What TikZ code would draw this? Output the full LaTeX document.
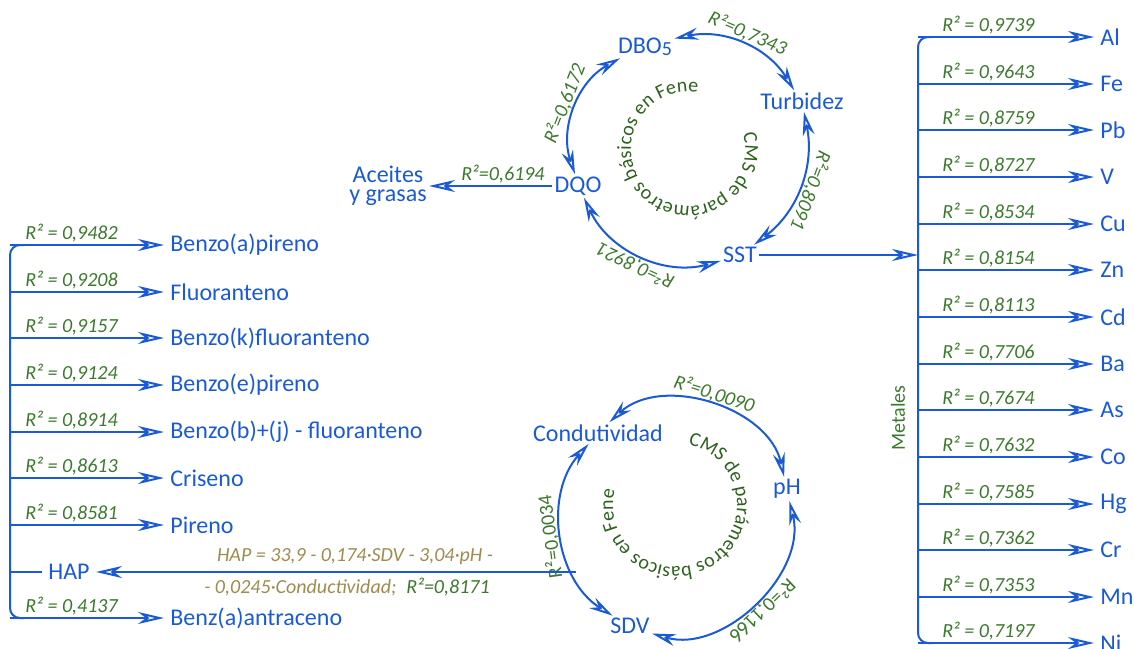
\documentclass[tikz,border=0pt]{standalone}
\usepackage{fontspec}
\setmainfont{Carlito}
\usepackage{tikz}
\usetikzlibrary{arrows.meta,positioning,decorations.text,calc}

\definecolor{lnblue}{HTML}{1A5AD7}
\definecolor{rgreen}{HTML}{3B7A2C}
\definecolor{cgreen}{HTML}{2D621D}
\definecolor{eqtan}{HTML}{A08A4E}

\begin{document}
\begin{tikzpicture}[x=0.5pt, y=0.5pt,
    every node/.style={font=\fontsize{12}{14}\selectfont, text=lnblue, inner sep=1pt},
    item/.style={anchor=west, inner sep=3pt},
    rlab/.style={above, text=rgreen, font=\itshape\fontsize{10}{12}\selectfont},
    clab/.style={rlab, sloped, allow upside down},
    ln/.style={draw=lnblue, line width=1pt},
    arr/.style={ln, -{Stealth[open, length=13pt, width=6pt, inset=4pt]}},
    biarr/.style={ln, {Stealth[open, length=12pt, width=6pt, inset=4pt]}-{Stealth[open, length=12pt, width=6pt, inset=4pt]}},
    eq/.style={text=eqtan, font=\itshape\fontsize{10}{12}\selectfont}]

    \useasboundingbox (0,0) rectangle (1134,-648);

    % CMS Fene: DBO5, Turbidez, SST, DQO
    \coordinate (c1) at (688,-149);
    \node (dbo) at (645,-47) {DBO\raisebox{-1pt}{\fontsize{10}{12}\selectfont 5}};
    \node (turb) at (802,-101) {Turbidez};
    \node (sst) at (740,-255) {SST};
    \node (dqo) at (578,-186) {DQO};
    \draw[biarr] (dbo) to[bend left=35] node[clab] {R²=0,7343} (turb);
    \draw[biarr] (turb) to[bend left=32] node[clab] {R²=0,8091} (sst);
    \draw[biarr] (sst) to[bend left=40] node[clab] {R²=0,8921} (dqo);
    \draw[biarr] (dqo) to[bend left=40] node[clab] {R²=0,6172} (dbo);
    \path[decorate, decoration={text along path, text align=center,
        text={|\color{cgreen}\fontsize{10}{12}\selectfont|CMS de parámetros básicos en Fene}}]
        ($(c1)+(38:57)$) arc[start angle=38, end angle=-302, radius=57];

    % Aceites y grasas
    \node[align=center, font=\fontsize{12}{9.5}\selectfont] (ace) at (388,-186) {Aceites\\y grasas};
    \draw[arr] (dqo) -- (ace) node[rlab, pos=0.4] {R²=0,6194};

    % CMS Fene: Condutividad, pH, SDV
    \coordinate (c2) at (675,-505);
    \node (cond) at (598,-433) {Condutividad};
    \node (ph) at (787,-489) {pH};
    \node (sdv) at (630,-626) {SDV};
    \draw[biarr] (cond) to[bend left=60] node[clab] {R²=0,0090} (ph);
    \draw[biarr] (ph) to[bend left=60] node[clab, font=\fontsize{10}{12}\selectfont] {R²=0,1166} (sdv);
    \draw[biarr] (sdv) to[bend left=50] node[clab, font=\fontsize{10}{12}\selectfont] {R²=0,0034} (cond);
    \path[decorate, decoration={text along path, text align=center,
        text={|\color{cgreen}\fontsize{10}{12}\selectfont|CMS de parámetros básicos en Fene}}]
        ($(c2)+(112:62)$) arc[start angle=112, end angle=-228, radius=62];

    % HAP
    \coordinate (lbar) at (10,0);
    \node[item] (bap) at (164,-245) {Benzo(a)pireno};
    \node[item] (flu) at (164,-292) {Fluoranteno};
    \node[item] (bkf) at (164,-338) {Benzo(k)fluoranteno};
    \node[item] (bep) at (164,-385) {Benzo(e)pireno};
    \node[item] (bbf) at (164,-432) {Benzo(b)+(j) - fluoranteno};
    \node[item] (cri) at (164,-478) {Criseno};
    \node[item] (pir) at (164,-525) {Pireno};
    \node[item] (hap) at (42,-572) {HAP};
    \node[item] (baa) at (164,-618) {Benz(a)antraceno};
    \draw[ln, rounded corners=5pt] ($(bap -| lbar)+(14,0)$) -- (bap -| lbar) -- (baa -| lbar) -- ++(14,0);
    \draw[arr] (bap -| lbar) -- (bap) node[rlab, pos=0.4] {R² = 0,9482};
    \draw[arr] (flu -| lbar) -- (flu) node[rlab, pos=0.4] {R² = 0,9208};
    \draw[arr] (bkf -| lbar) -- (bkf) node[rlab, pos=0.4] {R² = 0,9157};
    \draw[arr] (bep -| lbar) -- (bep) node[rlab, pos=0.4] {R² = 0,9124};
    \draw[arr] (bbf -| lbar) -- (bbf) node[rlab, pos=0.4] {R² = 0,8914};
    \draw[arr] (cri -| lbar) -- (cri) node[rlab, pos=0.4] {R² = 0,8613};
    \draw[arr] (pir -| lbar) -- (pir) node[rlab, pos=0.4] {R² = 0,8581};
    \draw[ln] (hap -| lbar) -- (hap);
    \draw[arr] (baa -| lbar) -- (baa) node[rlab, pos=0.4] {R² = 0,4137};

    % regresion HAP
    \coordinate (hapsrc) at (576,-572);
    \draw[arr] (hapsrc) -- (hap);
    \node[eq] (eq1) at (355,-557) {HAP = 33,9 - 0,174·SDV - 3,04·pH -};
    \node[eq] (eq2) at (347,-587) {- 0,0245·Conductividad;\enspace{\color{rgreen}R²=0,8171}};

    % Metales
    \coordinate (rbar) at (918,0);
    \node[item] (al) at (1094,-37) {Al};
    \node[item] (fe) at (1094,-84) {Fe};
    \node[item] (pb) at (1094,-130) {Pb};
    \node[item] (v) at (1094,-177) {V};
    \node[item] (cu) at (1094,-224) {Cu};
    \node[item] (zn) at (1094,-270) {Zn};
    \node[item] (cd) at (1094,-317) {Cd};
    \node[item] (ba) at (1094,-364) {Ba};
    \node[item] (as) at (1094,-410) {As};
    \node[item] (co) at (1094,-457) {Co};
    \node[item] (hg) at (1094,-504) {Hg};
    \node[item] (cr) at (1094,-550) {Cr};
    \node[item] (mn) at (1094,-597) {Mn};
    \node[item] (ni) at (1094,-643) {Ni};
    \draw[ln, rounded corners=5pt] ($(al -| rbar)+(14,0)$) -- (al -| rbar) -- (ni -| rbar) -- ++(14,0);
    \draw[arr] (al -| rbar) -- (al) node[rlab, pos=0.4] {R² = 0,9739};
    \draw[arr] (fe -| rbar) -- (fe) node[rlab, pos=0.4] {R² = 0,9643};
    \draw[arr] (pb -| rbar) -- (pb) node[rlab, pos=0.4] {R² = 0,8759};
    \draw[arr] (v -| rbar) -- (v) node[rlab, pos=0.4] {R² = 0,8727};
    \draw[arr] (cu -| rbar) -- (cu) node[rlab, pos=0.4] {R² = 0,8534};
    \draw[arr] (zn -| rbar) -- (zn) node[rlab, pos=0.4] {R² = 0,8154};
    \draw[arr] (cd -| rbar) -- (cd) node[rlab, pos=0.4] {R² = 0,8113};
    \draw[arr] (ba -| rbar) -- (ba) node[rlab, pos=0.4] {R² = 0,7706};
    \draw[arr] (as -| rbar) -- (as) node[rlab, pos=0.4] {R² = 0,7674};
    \draw[arr] (co -| rbar) -- (co) node[rlab, pos=0.4] {R² = 0,7632};
    \draw[arr] (hg -| rbar) -- (hg) node[rlab, pos=0.4] {R² = 0,7585};
    \draw[arr] (cr -| rbar) -- (cr) node[rlab, pos=0.4] {R² = 0,7362};
    \draw[arr] (mn -| rbar) -- (mn) node[rlab, pos=0.4] {R² = 0,7353};
    \draw[arr] (ni -| rbar) -- (ni) node[rlab, pos=0.4] {R² = 0,7197};
    \node[text=rgreen, font=\fontsize{10}{12}\selectfont, rotate=90] (met) at (898,-418) {Metales};
    \coordinate (rin) at (rbar |- sst);
    \draw[arr] (sst) -- (rin);
\end{tikzpicture}
\end{document}
